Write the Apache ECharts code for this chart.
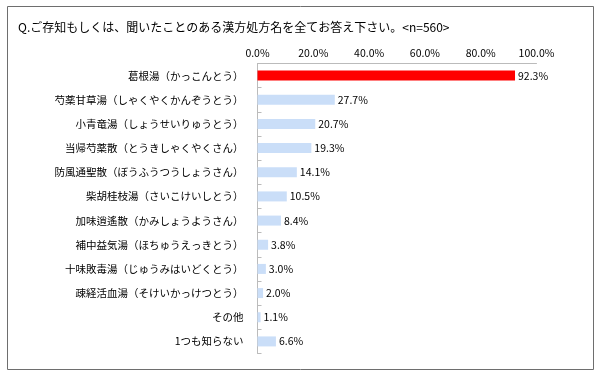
<!DOCTYPE html>
<html><head><meta charset="utf-8">
<script src="https://cdn.jsdelivr.net/npm/echarts@6/dist/echarts.min.js"></script>
<style>html,body{margin:0;padding:0;background:#fff}#c{width:600px;height:378px}</style>
</head><body><div id="c"></div>
<script>
var titleText = 'Q.ご存知もしくは、聞いたことのある漢方処方名を全てお答え下さい。<n=560>';
var categories = ['葛根湯（かっこんとう）','芍薬甘草湯（しゃくやくかんぞうとう）','小青竜湯（しょうせいりゅうとう）','当帰芍薬散（とうきしゃくやくさん）','防風通聖散（ぼうふうつうしょうさん）','柴胡桂枝湯（さいこけいしとう）','加味逍遙散（かみしょうようさん）','補中益気湯（ほちゅうえっきとう）','十味敗毒湯（じゅうみはいどくとう）','疎経活血湯（そけいかっけつとう）','その他','1つも知らない'];
var values = [92.3, 27.7, 20.7, 19.3, 14.1, 10.5, 8.4, 3.8, 3.0, 2.0, 1.1, 6.6];
var highlightIndex = 0;
var FONT = '"Noto Sans CJK JP", sans-serif';
var chart = echarts.init(document.getElementById('c'));
chart.setOption({
  animation: false,
  backgroundColor: '#fff',
  title: {text: titleText, left: 13, top: 16, textStyle: {fontFamily: FONT, fontSize: 12, fontWeight: 'normal', color: '#000'}},
  graphic: [{type: 'rect', shape: {x: 7.5, y: 6.5, width: 586, height: 363}, style: {fill: 'none', stroke: '#6e6e6e', lineWidth: 1}, z: 100}],
  grid: {left: 257.5, right: 63.5, top: 63.5, bottom: 24.5},
  xAxis: {type: 'value', position: 'top', min: 0, max: 100, interval: 20,
    axisLine: {show: true, lineStyle: {color: '#bbbbbb'}}, axisTick: {show: false}, splitLine: {show: false},
    axisLabel: {margin: 5, fontFamily: FONT, fontSize: 10.5, color: '#000', formatter: function (v) { return v.toFixed(1) + '%'; }}},
  yAxis: {type: 'category', inverse: true, data: categories,
    axisLine: {show: true, lineStyle: {color: '#bbbbbb'}},
    axisTick: {show: true, inside: true, length: 4, interval: 0, lineStyle: {color: '#bbbbbb'}},
    axisLabel: {margin: 14, interval: 0, fontFamily: FONT, fontSize: 10.5, color: '#000'}},
  series: [{type: 'bar', barWidth: 10,
    data: values.map(function (v, i) { return {value: v, itemStyle: {color: i === highlightIndex ? '#ff0000' : '#cadef8'}}; }),
    label: {show: true, position: 'right', distance: 3, fontFamily: FONT, fontSize: 10.5, color: '#000', formatter: function (p) { return p.value.toFixed(1) + '%'; }}}]
});
</script></body></html>
